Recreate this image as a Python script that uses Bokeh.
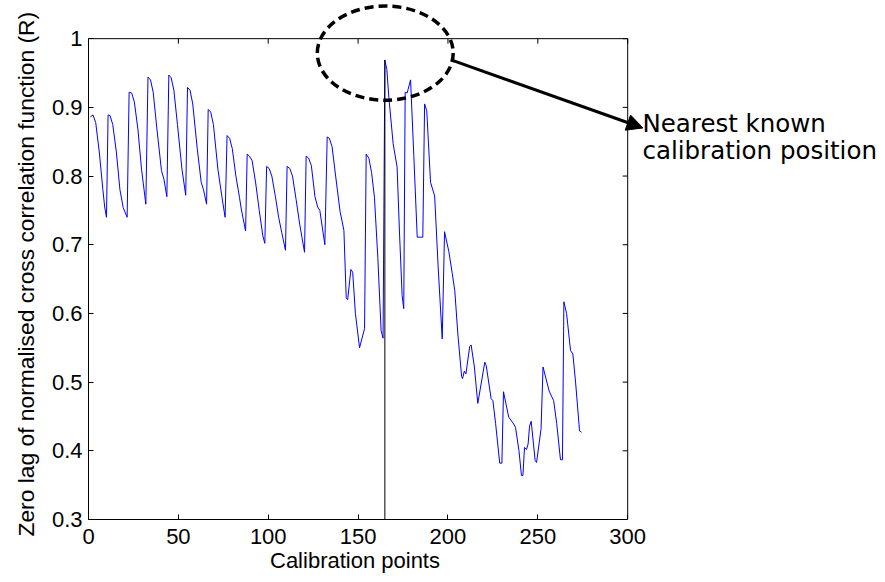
import numpy as np
from bokeh.plotting import figure
from bokeh.models import (Range1d, FixedTicker, CustomJSTickFormatter,
                          Arrow, NormalHead, Label, Title)
from bokeh.embed import file_html
from bokeh.resources import INLINE

# ---------------- data ----------------
calib_points = [
    1, 2.5, 4, 6, 8, 9, 10,
    10.9, 12, 13.5, 15.5, 17.5, 19.3, 21.5,
    22.6, 24, 25.5, 27.5, 29.5, 31.9,
    33.1, 34.5, 36, 38, 40.6, 42, 43.6,
    44.7, 46, 47.5, 49.5, 52, 54.1,
    55.1, 56.5, 58, 60.5, 62.7, 64, 65.7,
    66.6, 68, 69.5, 72, 74.5, 76.0,
    77.1, 78.5, 80, 82, 84.0, 85, 87.4,
    88.3, 89.5, 91, 93, 95, 97, 98.1,
    99.1, 100.5, 102, 104, 105.8, 107.5, 109.6,
    110.5, 112, 113.5, 115.5, 117.5, 120.2,
    121.1, 122.5, 124, 126, 127.5, 128.7, 131.5,
    132.8, 134, 135.5, 137.5, 140, 142.1, 143.4, 144.2, 146.0, 147, 148.5, 150.8, 153.6,
    154.5, 156, 157.5, 159.1, 161, 162.8, 163.9,
    164.9, 166, 167.1, 169.5, 171.7, 173, 174.5, 175.4,
    176.2, 177.3, 179.2, 181, 182.9, 186.0,
    187.0, 188.2, 190.3, 192.6, 194.5, 196.8,
    198.1, 200.5, 202.4, 203.8, 205.5, 207.6, 208.1, 209.1, 210, 212.1, 212.9,
    214.7, 216.6, 220.5, 221.3, 224.0, 225, 226.5, 228.8, 230,
    230.9, 233.8, 236.6, 237.6, 239.5, 240.9, 241.7, 242.6, 243.7, 244.6, 245.4, 246.3,
    248.5, 249.3, 251.8, 252.9, 256.3, 258.8, 260.5, 262.6, 263.7,
    264.5, 266, 268.2, 269.5, 271, 273.2, 274.3,
]
r_values = [
    0.886, 0.889, 0.878, 0.835, 0.780, 0.755, 0.740,
    0.889, 0.888, 0.875, 0.835, 0.780, 0.754, 0.740,
    0.922, 0.921, 0.908, 0.868, 0.810, 0.759,
    0.944, 0.940, 0.922, 0.870, 0.808, 0.795, 0.770,
    0.947, 0.943, 0.925, 0.875, 0.810, 0.772,
    0.929, 0.925, 0.905, 0.840, 0.791, 0.780, 0.759,
    0.897, 0.893, 0.875, 0.810, 0.765, 0.740,
    0.859, 0.855, 0.840, 0.800, 0.769, 0.752, 0.720,
    0.832, 0.829, 0.823, 0.790, 0.750, 0.713, 0.702,
    0.814, 0.811, 0.800, 0.770, 0.740, 0.718, 0.692,
    0.814, 0.811, 0.800, 0.766, 0.730, 0.689,
    0.829, 0.826, 0.815, 0.770, 0.755, 0.750, 0.700,
    0.857, 0.855, 0.843, 0.800, 0.748, 0.721, 0.623, 0.620, 0.664, 0.660, 0.600, 0.550, 0.578,
    0.832, 0.826, 0.805, 0.769, 0.680, 0.575, 0.564,
    0.969, 0.955, 0.915, 0.847, 0.813, 0.720, 0.626, 0.607,
    0.922, 0.921, 0.940, 0.830, 0.711, 0.711,
    0.905, 0.895, 0.791, 0.771, 0.670, 0.563,
    0.719, 0.690, 0.658, 0.633, 0.570, 0.508, 0.505, 0.516, 0.512, 0.552, 0.554,
    0.522, 0.469, 0.529, 0.524, 0.476, 0.473, 0.440, 0.382, 0.382,
    0.486, 0.449, 0.439, 0.434, 0.400, 0.364, 0.364, 0.405, 0.402, 0.410, 0.436, 0.443,
    0.386, 0.383, 0.432, 0.522, 0.487, 0.473, 0.440, 0.387, 0.387,
    0.617, 0.600, 0.546, 0.541, 0.500, 0.429, 0.427,
]
x_ticks = [0, 50, 100, 150, 200, 250, 300]
y_ticks = [0.3, 0.4, 0.5, 0.6, 0.7, 0.8, 0.9, 1.0]
x_title = "Calibration points"
y_title = "Zero lag of normalised cross correlation function (R)"
nearest_label = ["Nearest known", "calibration position"]

X_MIN, X_MAX = 0, 300
Y_MIN, Y_MAX = 0.3, 1.0

# nearest calibration point = maximum R
best = int(np.argmax(r_values))
best_x = calib_points[best]
best_r = r_values[best]

# ---------------- layout geometry ----------------
PX_PER_X = 1.7973     # pixels per calibration point
PX_PER_Y = 686.9      # pixels per unit of R
BORDER_L = 88
FRAME_W, FRAME_H = 885 - BORDER_L, 519   # frame extends past the axes box so notes are not clipped

p = figure(output_backend="svg", toolbar_location=None,
           frame_width=FRAME_W, frame_height=FRAME_H,
           min_border_left=BORDER_L, min_border_right=0,
           min_border_top=0, min_border_bottom=0,
           x_range=Range1d(X_MIN, X_MIN + FRAME_W / PX_PER_X),
           y_range=Range1d(Y_MIN, Y_MIN + FRAME_H / PX_PER_Y))
p.grid.visible = False
p.outline_line_color = None
p.background_fill_color = "white"
p.border_fill_color = "white"

fmt = CustomJSTickFormatter(code="return Math.abs(tick-1)<1e-9 ? '1' : (Number.isInteger(tick) ? tick.toString() : tick.toFixed(1));")

for ax in p.xaxis:
    ax.ticker = FixedTicker(ticks=x_ticks)
    ax.bounds = (X_MIN, X_MAX)
for ax in p.yaxis:
    ax.ticker = FixedTicker(ticks=y_ticks)
    ax.bounds = (Y_MIN, Y_MAX)

for ax in list(p.xaxis) + list(p.yaxis):
    ax.formatter = fmt
    ax.major_tick_in = 5
    ax.major_tick_out = 0
    ax.minor_tick_line_color = None
    ax.axis_line_color = "black"
    ax.major_tick_line_color = "black"
    ax.major_label_text_font = "Liberation Sans"
    ax.major_label_text_font_size = "22px"
    ax.major_label_text_color = "black"

p.xaxis.major_label_standoff = 9
p.yaxis.major_label_standoff = 6

# axis titles placed on the axes box (not on the wider frame)
p.add_layout(Title(text=x_title, align="left", offset=269.5 - BORDER_L, standoff=2,
                   text_font="Liberation Sans", text_font_size="22px",
                   text_font_style="normal", text_color="black",
                   vertical_align="top"), "below")
p.add_layout(Title(text=y_title, align="left", offset=-17, standoff=20,
                   text_font="Liberation Sans", text_font_size="22.8px",
                   text_font_style="normal", text_color="black"), "left")

# box top / right edges with mirrored inward ticks
p.segment(x0=[X_MIN, X_MAX], y0=[Y_MAX, Y_MIN], x1=[X_MAX, X_MAX], y1=[Y_MAX, Y_MAX],
          line_color="black", line_width=1)
tick_dx = 5 / PX_PER_X
tick_dy = 5 / PX_PER_Y
p.segment(x0=x_ticks, y0=[Y_MAX] * len(x_ticks), x1=x_ticks, y1=[Y_MAX - tick_dy] * len(x_ticks),
          line_color="black", line_width=1)
p.segment(x0=[X_MAX] * len(y_ticks), y0=y_ticks, x1=[X_MAX - tick_dx] * len(y_ticks), y1=y_ticks,
          line_color="black", line_width=1)

# series
p.line(calib_points, r_values, line_color="#0000ff", line_width=1)
# vertical marker at the nearest calibration point
p.segment(x0=[best_x], y0=[Y_MIN], x1=[best_x], y1=[best_r], line_color="black", line_width=1)

# dashed ellipse around the peak
cx, cy, rx, ry = best_x + 0.2, 0.979, 37.8, 0.0685
p.ellipse(x=[cx], y=[cy], width=[2 * rx], height=[2 * ry], fill_alpha=0,
          line_color="black", line_width=3.5, line_dash="9 5")

# arrow to the text
p.add_layout(Arrow(x_start=cx + rx, y_start=0.968, x_end=308.5, y_end=0.870,
                   line_color="black", line_width=3,
                   end=NormalHead(size=16, fill_color="black", line_color="black")))

ann_font = "DejaVu Sans"
p.add_layout(Label(x=308.2, y=0.877, text=nearest_label[0], text_font=ann_font,
                   text_font_size="24.5px", text_color="black", text_baseline="alphabetic"))
p.add_layout(Label(x=308.2, y=0.837, text=nearest_label[1], text_font=ann_font,
                   text_font_size="24.5px", text_color="black", text_baseline="alphabetic"))

open("out.html", "w").write(file_html(p, INLINE))
